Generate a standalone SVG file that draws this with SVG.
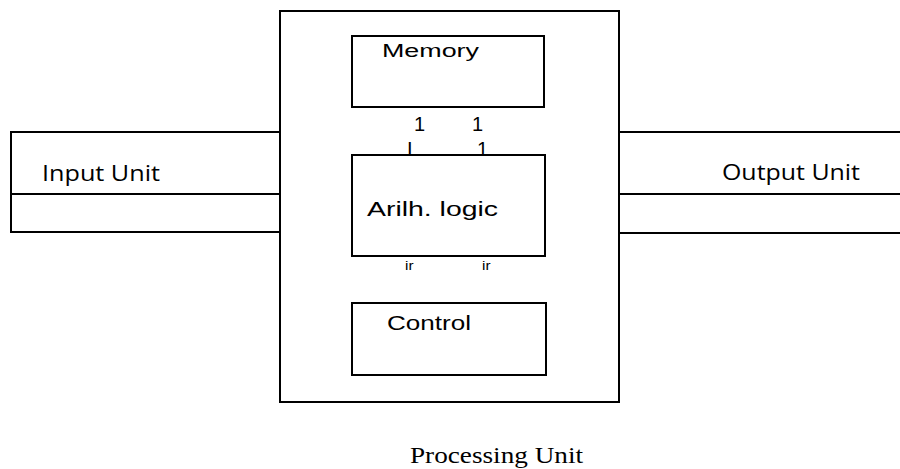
<svg xmlns="http://www.w3.org/2000/svg" width="900" height="469" viewBox="0 0 900 469">
<style>
.box{fill:none;stroke:#000;stroke-width:2}
.ln{fill:none;stroke:#000;stroke-width:2}
.a{font-family:"Liberation Sans",Arial,sans-serif;fill:#000}
.o{font-family:"Open Sans","Noto Sans",sans-serif;fill:#000}
.s{font-family:"Liberation Serif","Times New Roman",serif;fill:#000}
</style>
<rect width="900" height="469" fill="#fff"/>
<g id="processing-unit">
<rect class="box" x="280" y="11" width="339" height="391"/>
<text class="s" x="410" y="463" font-size="24" textLength="173" lengthAdjust="spacingAndGlyphs">Processing Unit</text>
</g>
<g id="input-unit">
<path class="ln" d="M280,132 H11 V232 H280 M11,194 H280"/>
<text class="o" x="42" y="181" font-size="22" textLength="118" lengthAdjust="spacingAndGlyphs">Input Unit</text>
</g>
<g id="output-unit">
<path class="ln" d="M619,132 H900 M619,194 H900 M619,233 H900"/>
<text class="o" x="722" y="180" font-size="22" textLength="138" lengthAdjust="spacingAndGlyphs">Output Unit</text>
</g>
<g id="memory">
<rect class="box" x="352" y="36" width="192" height="71"/>
<text class="a" x="382" y="57" font-size="18" textLength="97" lengthAdjust="spacingAndGlyphs">Memory</text>
</g>
<g id="arith-logic">
<rect class="box" x="352" y="155" width="193" height="101"/>
<text class="a" x="367" y="216" font-size="21" textLength="131" lengthAdjust="spacingAndGlyphs">Arilh. logic</text>
</g>
<g id="control">
<rect class="box" x="352" y="303" width="194" height="72"/>
<text class="a" x="387" y="330" font-size="20" textLength="84" lengthAdjust="spacingAndGlyphs">Control</text>
</g>
<g id="connectors">
<text class="a" x="414" y="131" font-size="20">1</text>
<text class="a" x="472" y="131" font-size="20">1</text>
<text class="a" x="407" y="156" font-size="20">I</text>
<text class="a" x="477" y="156" font-size="20">1</text>
<text class="a" x="405" y="270" font-size="12" textLength="8.5" lengthAdjust="spacingAndGlyphs">ir</text>
<text class="a" x="482" y="270" font-size="12" textLength="8.5" lengthAdjust="spacingAndGlyphs">ir</text>
</g>
</svg>
